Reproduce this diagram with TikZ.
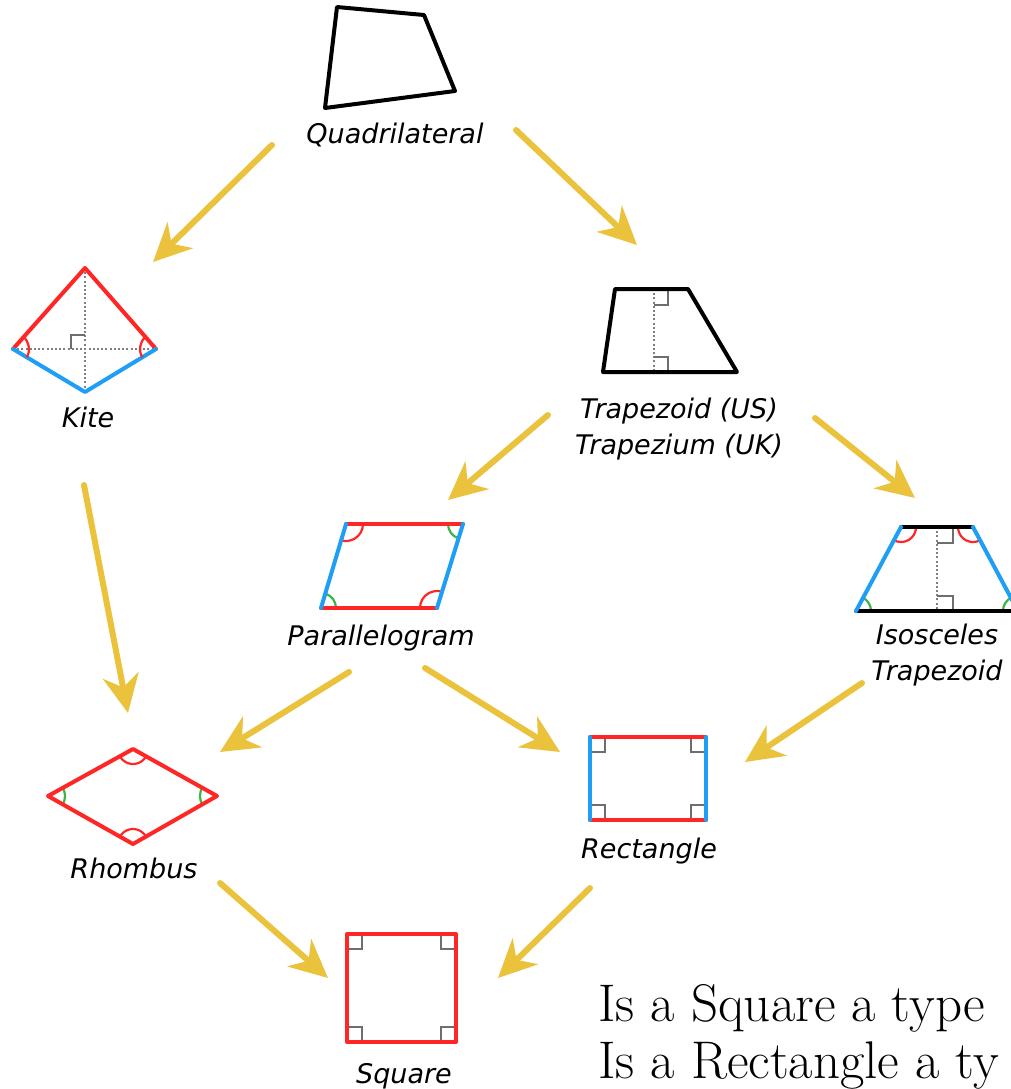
\documentclass[tikz,border=0pt]{standalone}
\usepackage{fontspec}
\newfontfamily\lblfont{DejaVu Sans}
\usetikzlibrary{arrows.meta}
\definecolor{gold}{HTML}{EBC23C}
\definecolor{edgered}{HTML}{FF2626}
\definecolor{edgeblue}{HTML}{1E9EF5}
\definecolor{anggreen}{HTML}{3CB448}
\definecolor{markgray}{HTML}{6E6E6E}
\begin{document}
\begin{tikzpicture}[x=0.5pt,y=-0.5pt,
  lbl/.style={font=\lblfont\itshape\fontsize{13.5}{18}\selectfont, inner sep=0pt, align=center},
  ask/.style={font=\fontsize{26.5}{30}\selectfont, inner sep=0pt, anchor=base west},
  edge/.style={line width=2pt, line join=round, line cap=round},
  flow/.style={gold, line width=3pt, line cap=round, -{Stealth[length=19pt,width=18pt,inset=6pt]}},
  diag/.style={gray, line width=1pt, dash pattern=on 1pt off 1.1pt},
  rmark/.style={markgray, line width=1.1pt},
  ang/.style={line width=1.1pt}]
\useasboundingbox (0,0) rectangle (1011,1089);
\fill[white] (0,0) rectangle (1011,1089);
\clip (0,0) rectangle (1011,1089);
\draw[edge] (337,7) -- (424,15) -- (455,91) -- (325,108) -- cycle;
\node[lbl, anchor=base] (quad) at (395,143) {Quadrilateral};
\draw[diag] (85,268) -- (85,392);
\draw[diag] (13,349) -- (156,349);
\draw[rmark] (71,349) -- (71,335) -- (85,335);
\draw[edge, edgered] (13,349) -- (85,268) -- (156,349);
\draw[edge, edgeblue] (13,349) -- (85,392) -- (156,349);
\draw[ang, edgered] (13,349) ++(-48:16) arc (-48:31:16);
\draw[ang, edgered] (156,349) ++(149:16) arc (149:229:16);
\node[lbl, anchor=base] (kite) at (88,427) {Kite};
\draw[diag] (654,289) -- (654,372);
\draw[rmark] (654,305) -- (668,305) -- (668,289);
\draw[rmark] (654,357) -- (668,357) -- (668,372);
\draw[edge] (615,289) -- (688,289) -- (737,372) -- (603,372) -- cycle;
\node[lbl] (trap) at (679,429) {Trapezoid (US)\\Trapezium (UK)};
\draw[ang, edgered] (346,524) ++(0:17) arc (0:107:17);
\draw[ang, anggreen] (463,524) ++(107:15) arc (107:180:15);
\draw[ang, edgered] (437,608) ++(180:17) arc (180:287:17);
\draw[ang, anggreen] (321,608) ++(-73:15) arc (-73:0:15);
\draw[edge, edgered] (346,524) -- (463,524) (321,608) -- (437,608);
\draw[edge, edgeblue] (346,524) -- (321,608) (463,524) -- (437,608);
\node[lbl, anchor=base] (para) at (381,645) {Parallelogram};
\draw[diag] (937,527) -- (937,611);
\draw[rmark] (937,543) -- (953,543) -- (953,527);
\draw[rmark] (937,596) -- (953,596) -- (953,611);
\draw[ang, edgered] (901,527) ++(0:15) arc (0:118:15);
\draw[ang, edgered] (973,527) ++(62:15) arc (62:180:15);
\draw[ang, anggreen] (856,611) ++(-62:15) arc (-62:0:15);
\draw[ang, anggreen] (1018,611) ++(180:15) arc (180:242:15);
\draw[edge] (901,527) -- (973,527) (856,611) -- (1018,611);
\draw[edge, edgeblue] (901,527) -- (856,611) (973,527) -- (1018,611);
\node[lbl] (isos) at (937,655) {Isosceles\\Trapezoid};
\draw[ang, edgered] (133,749) ++(29:15) arc (29:151:15);
\draw[ang, edgered] (133,844) ++(210:15) arc (210:330:15);
\draw[ang, anggreen] (48,796) ++(-29:17) arc (-29:30:17);
\draw[ang, anggreen] (217,796) ++(150:17) arc (150:209:17);
\draw[edge, edgered] (133,749) -- (217,796) -- (133,844) -- (48,796) -- cycle;
\node[lbl, anchor=base] (rhom) at (134,878) {Rhombus};
\draw[rmark] (590,752) -- (605,752) -- (605,737);
\draw[rmark] (706,752) -- (691,752) -- (691,737);
\draw[rmark] (590,805) -- (605,805) -- (605,820);
\draw[rmark] (706,805) -- (691,805) -- (691,820);
\draw[edge, edgered] (590,737) -- (706,737) (590,820) -- (706,820);
\draw[edge, edgeblue] (590,737) -- (590,820) (706,737) -- (706,820);
\node[lbl, anchor=base] (rect) at (649,858) {Rectangle};
\draw[rmark] (347,949) -- (362,949) -- (362,934);
\draw[rmark] (456,949) -- (441,949) -- (441,934);
\draw[rmark] (347,1027) -- (362,1027) -- (362,1042);
\draw[rmark] (456,1027) -- (441,1027) -- (441,1042);
\draw[edge, edgered] (347,934) rectangle (456,1042);
\node[lbl, anchor=base] (squa) at (404,1083) {Square};
\node[ask] (ask1) at (598,1021) {Is a Square a type};
\node[ask] (ask2) at (598,1078) {Is a Rectangle a ty};
\coordinate (qk1) at (272,145); \coordinate (qk2) at (153,262);
\coordinate (qt1) at (516,130); \coordinate (qt2) at (637,245);
\coordinate (kr1) at (84,485); \coordinate (kr2) at (128,713);
\coordinate (tp1) at (548,415); \coordinate (tp2) at (448,500);
\coordinate (ti1) at (815,418); \coordinate (ti2) at (915,498);
\coordinate (pr1) at (349,672); \coordinate (pr2) at (220,752);
\coordinate (pe1) at (425,668); \coordinate (pe2) at (560,752);
\coordinate (ie1) at (862,683); \coordinate (ie2) at (745,762);
\coordinate (rs1) at (220,883); \coordinate (rs2) at (328,978);
\coordinate (es1) at (590,888); \coordinate (es2) at (498,978);
\draw[flow] (qk1) -- (qk2);
\draw[flow] (qt1) -- (qt2);
\draw[flow] (kr1) -- (kr2);
\draw[flow] (tp1) -- (tp2);
\draw[flow] (ti1) -- (ti2);
\draw[flow] (pr1) -- (pr2);
\draw[flow] (pe1) -- (pe2);
\draw[flow] (ie1) -- (ie2);
\draw[flow] (rs1) -- (rs2);
\draw[flow] (es1) -- (es2);
\end{tikzpicture}
\end{document}
